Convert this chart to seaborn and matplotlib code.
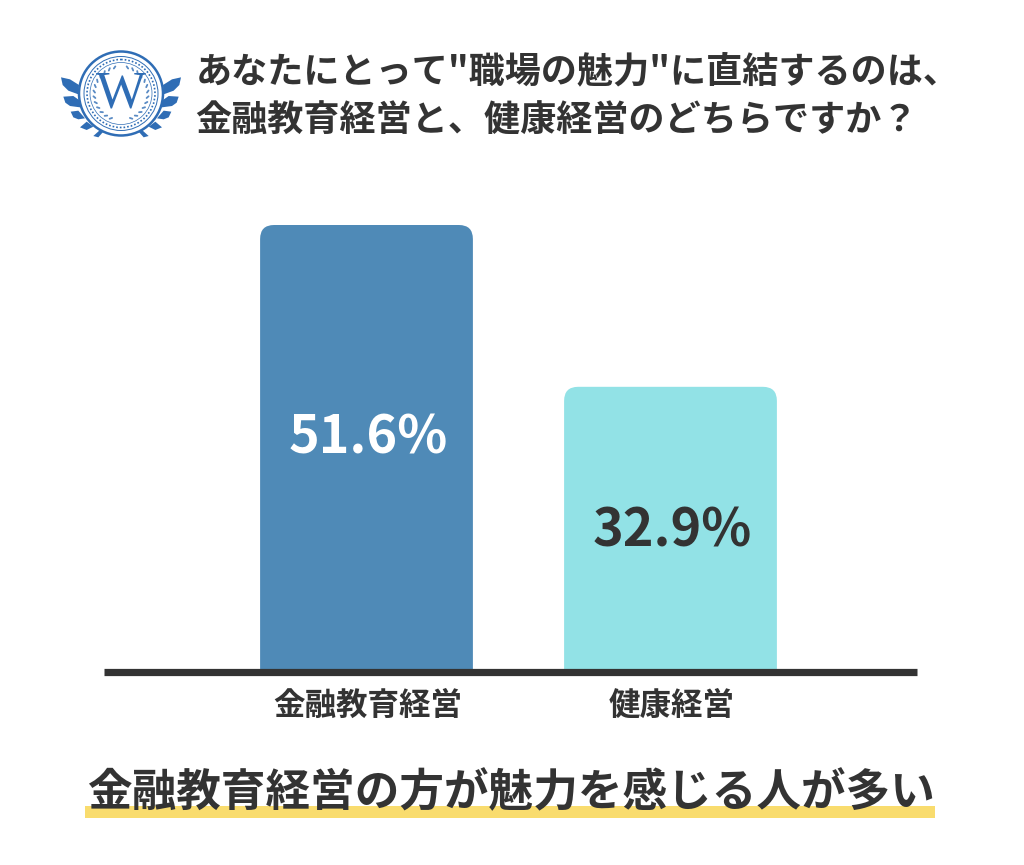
import matplotlib
matplotlib.use("Agg")
import matplotlib.pyplot as plt
import matplotlib.transforms as mtrans
import seaborn as sns
import pandas as pd
import numpy as np
from matplotlib.patches import FancyBboxPatch, Circle, Polygon, Rectangle

categories = ["金融教育経営", "健康経営"]
values = [51.6, 32.9]
bar_colors = ["#4F8AB7", "#92E2E6"]
value_colors = ["#FFFFFF", "#333333"]
title_lines = ['あなたにとって"職場の魅力"に直結するのは、', '金融教育経営と、健康経営のどちらですか？']
conclusion = "金融教育経営の方が魅力を感じる人が多い"

sns.set_theme(style="white")
plt.rcParams['font.family'] = ['Noto Sans CJK JP', 'DejaVu Sans']
W, H = 1024, 865
DARK = "#333333"
fig = plt.figure(figsize=(W/100, H/100), dpi=100, facecolor="white")

# pixel-space overlay for decoration
bg = fig.add_axes([0, 0, 1, 1], zorder=0)
bg.set_xlim(0, W); bg.set_ylim(H, 0); bg.axis("off")

# chart axes
x0, x1, ytop, ybase, zero = 104, 917, 225, 675, 671.5
ax = fig.add_axes([x0/W, 1-ybase/H, (x1-x0)/W, (ybase-ytop)/H], zorder=1)
ax.patch.set_alpha(0)
df = pd.DataFrame({"cat": categories, "val": values})
sns.barplot(data=df, x="cat", y="val", hue="cat", palette=bar_colors, legend=False,
            width=0.7, saturation=1, ax=ax, dodge=False)
step = 304
ax.set_xlim((x0-366.5)/step, (x1-366.5)/step)
ppu = (zero-ytop)/51.6
ax.set_ylim(-(ybase-zero)/ppu, (zero-ytop)/ppu)
r = 14
for p, c in zip(list(ax.patches), bar_colors):
    bx, bw, bh = p.get_x(), p.get_width(), p.get_height()
    if bh == 0:
        p.remove(); continue
    p.set_visible(False)
    f = FancyBboxPatch((bx + r/step, -20), bw - 2*r/step, bh + 20 - r/ppu,
                       boxstyle=f"round,pad={r/step},rounding_size={r/step}",
                       mutation_aspect=step/ppu, fc=c, ec="none", zorder=2)
    ax.add_patch(f)
sns.despine(ax=ax, left=True, top=True, right=True)
sp = ax.spines["bottom"]
sp.set_linewidth(5.2); sp.set_color(DARK); sp.set_position(("data", 0))
sp.set_zorder(5); sp.set_capstyle("butt")
ax.set_yticks([])
ax.set_xlabel(""); ax.set_ylabel("")
ax.tick_params(axis="x", length=0, pad=13.5)
shift = mtrans.ScaledTranslation(1.5/100, 0, fig.dpi_scale_trans)
for lab in ax.get_xticklabels():
    lab.set_fontsize(22.7); lab.set_fontweight("bold"); lab.set_color(DARK)
    lab.set_transform(lab.get_transform() + shift)
label_shift = [7.2, -1.5]
for i, (v, c, s) in enumerate(zip(values, value_colors, label_shift)):
    ax.annotate(f"{v}%", (i, v/2), xytext=(0.9, s), textcoords="offset points",
                ha="center", va="center", fontsize=37.5, fontweight="bold", color=c, zorder=6)

# title
for line, y in zip(title_lines, [72, 121.5]):
    fig.text(195.5/W, 1-y/H, line, ha="left", va="center", fontsize=26, fontweight="bold", color=DARK)

# conclusion with marker underline
bg.add_patch(Rectangle((85, 806), 850, 12, fc="#F9DC6E", ec="none"))
fig.text(511/W, 1-793/H, conclusion, ha="center", va="center", fontsize=32.1, fontweight="bold", color=DARK, zorder=3)

# logo
BLUE = "#2F6DB5"
cx, cy, R = 121, 93.5, 41
feathers = [
    [(33,112),(60,118),(87,135),(85,163),(55,152),(38,135)],
    [(40,170),(70,168),(90,182),(90,202),(60,198),(46,188)],
    [(62,215),(85,212),(105,235),(85,238),(70,232)],
    [(90,262),(110,245),(130,260),(110,270)],
    [(130,288),(150,270),(160,275),(145,292)],
]
for fe in feathers:
    pts = np.array(fe, float)/3 + [50, 40]
    bg.add_patch(Polygon(pts, fc=BLUE, ec="none"))
    m = pts.copy(); m[:, 0] = 2*cx - m[:, 0]
    bg.add_patch(Polygon(m, fc=BLUE, ec="none"))
bg.add_patch(Circle((cx, cy), R+1, fc="white", ec=BLUE, lw=1.8))
bg.add_patch(Circle((cx, cy), R-4, fc="none", ec=BLUE, lw=0.7))
bg.add_patch(Circle((cx, cy), R-7, fc="none", ec=BLUE, lw=1.2, ls=(0, (1, 1.2))))
bg.add_patch(Circle((cx, cy), R-10, fc="none", ec=BLUE, lw=0.5))
# laurel
for sign in (-1, 1):
    for a in np.arange(-70, 75, 12):
        t = np.radians(a)
        px, py = cx + sign*(R-15)*np.cos(t), cy - (R-15)*np.sin(t)
        bg.plot([px, px + sign*2.6*np.cos(t+0.9)], [py, py - 2.6*np.sin(t+0.9)],
                color=BLUE, lw=1.3, solid_capstyle="round", alpha=0.8)
bg.text(cx, cy+1, "W", ha="center", va="center", fontsize=38, color=BLUE, family="Liberation Serif")

fig.savefig("out.png", dpi=100, facecolor="white")
